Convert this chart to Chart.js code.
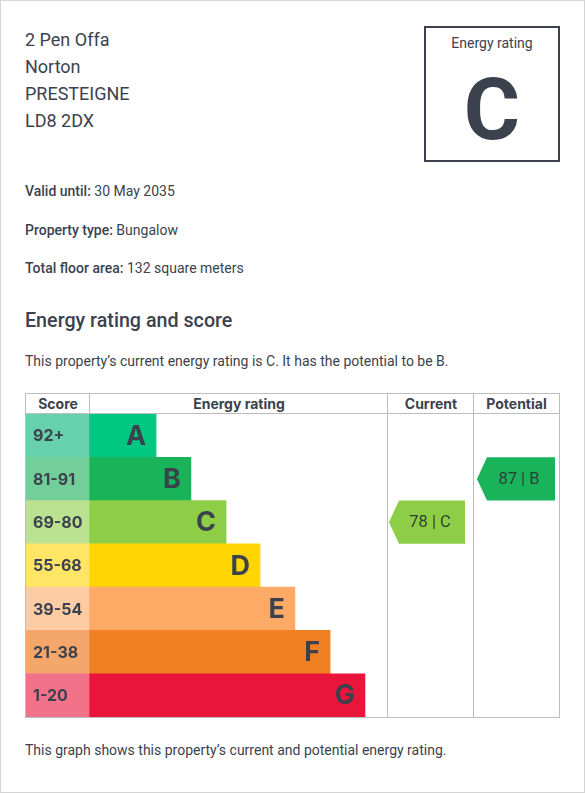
<!DOCTYPE html>
<html lang="en">
<head>
<meta charset="UTF-8">
<title>Energy rating</title>
<script src="https://cdn.jsdelivr.net/npm/chart.js"></script>
<style>
    body {
        margin: 0;
        font-family: Roboto, 'Noto Sans', sans-serif;
        color: #3b424d;
        background: #fff;
    }
    .page {
        position: relative;
        width: 583px;
        height: 791px;
        border: 1px solid #d4d4d4;
        overflow: hidden;
    }
    .address {
        position: absolute;
        left: 24px;
        top: 25px;
        font-size: 18px;
        line-height: 27px;
    }
    .rating-box {
        position: absolute;
        left: 423px;
        top: 25px;
        width: 132px;
        height: 132px;
        border: 2px solid #3b424d;
        text-align: center;
    }
    .rating-box .label {
        font-size: 14px;
        margin-top: 7px;
    }
    .rating-box .letter {
        font-size: 86px;
        font-weight: 700;
        line-height: 86px;
        margin-top: 16px;
    }
    .info {
        position: absolute;
        left: 24px;
        font-size: 14px;
        line-height: 18px;
    }
    .info b { font-weight: 500; }
    h2 {
        position: absolute;
        left: 24px;
        top: 307px;
        margin: 0;
        font-size: 19.7px;
        font-weight: 500;
        line-height: 26px;
    }
    .table {
        position: absolute;
        left: 24px;
        top: 392px;
        width: 533px;
        height: 323px;
        border: 1px solid #bdbdbd;
    }
    .head {
        position: absolute;
        top: 0;
        height: 20px;
        line-height: 19px;
        font-family: Inter, sans-serif;
        font-size: 14px;
        font-weight: 700;
        text-align: center;
        border-bottom: 1px solid #bdbdbd;
        box-sizing: border-box;
    }
    .sep {
        position: absolute;
        top: 0;
        width: 1px;
        background: #bdbdbd;
    }
    #chart-wrap {
        position: absolute;
        left: 25px;
        top: 413px;
        width: 533px;
        height: 303px;
    }
</style>
</head>
<body>
<div class="page">
    <div class="address">2 Pen Offa<br>Norton<br>PRESTEIGNE<br>LD8 2DX</div>
    <div class="rating-box">
        <div class="label">Energy rating</div>
        <div class="letter">C</div>
    </div>
    <div class="info" style="top:181px"><b>Valid until:</b> 30 May 2035</div>
    <div class="info" style="top:220px"><b>Property type:</b> Bungalow</div>
    <div class="info" style="top:258px"><b>Total floor area:</b> 132 square meters</div>
    <h2>Energy rating and score</h2>
    <div class="info" style="top:351px">This property’s current energy rating is C. It has the potential to be B.</div>

    <div class="table">
        <div class="head" style="left:0;width:64px">Score</div>
        <div class="head" style="left:64px;width:298px">Energy rating</div>
        <div class="head" style="left:362px;width:86px">Current</div>
        <div class="head" style="left:448px;width:85px">Potential</div>
        <div class="sep" style="left:63px;height:20px"></div>
        <div class="sep" style="left:361px;height:323px"></div>
        <div class="sep" style="left:447px;height:323px"></div>
    </div>
    <div id="chart-wrap"><canvas id="chart"></canvas></div>

    <div class="info" style="top:740px">This graph shows this property’s current and potential energy rating.</div>
</div>

<script>
    // bands, top (best) to bottom
    const bands = ['A', 'B', 'C', 'D', 'E', 'F', 'G'];
    const scoreRanges = ['92+', '81-91', '69-80', '55-68', '39-54', '21-38', '1-20'];
    const bandMin = [92, 81, 69, 55, 39, 21, 1];
    // bar length as % of the energy rating column
    const bandLengths = [22.5, 34.2, 46, 57.4, 69.1, 80.9, 92.6];
    const bandColors = ['#00c781', '#19b459', '#8dce46', '#ffd500', '#fcaa65', '#ef8023', '#e9153b'];
    const scoreColors = ['#66d1ac', '#72cf9a', '#bbe290', '#ffe566', '#fdcca3', '#f5a66b', '#f27389'];
    const currentScore = 78;
    const potentialScore = 87;

    // column edges in table pixels (x scale runs 0..533)
    const cols = {
        score: [0, 63],
        rating: [63, 361],
        current: [361, 447],
        potential: [447, 533]
    };
    const ratingWidth = cols.rating[1] - cols.rating[0];

    function bandOf(score) {
        return bandMin.findIndex(m => score >= m);
    }

    const labelPlugin = {
        id: 'labels',
        afterDatasetsDraw(chart) {
            const ctx = chart.ctx;
            const scoreBars = chart.getDatasetMeta(0).data;
            const bandBars = chart.getDatasetMeta(1).data;
            ctx.save();
            ctx.fillStyle = '#3b424d';
            ctx.textBaseline = 'middle';
            ctx.font = '700 16px Inter, sans-serif';
            ctx.textAlign = 'left';
            scoreBars.forEach((bar, i) => {
                ctx.fillText(scoreRanges[i], bar.base + 7, bar.y + 1);
            });
            ctx.font = '700 27px Inter, sans-serif';
            ctx.textAlign = 'right';
            bandBars.forEach((bar, i) => {
                ctx.fillText(bands[i], bar.x - 10, bar.y + 1);
            });
            ctx.restore();
        }
    };

    const arrowPlugin = {
        id: 'arrows',
        afterDatasetsDraw(chart) {
            const ctx = chart.ctx;
            const x = chart.scales.x;
            const y = chart.scales.y;
            const rowH = y.getPixelForValue(1) - y.getPixelForValue(0);
            const draw = (score, col, padL, padR) => {
                const i = bandOf(score);
                const cy = y.getPixelForValue(i);
                const top = cy - rowH / 2;
                const bot = cy + rowH / 2;
                const left = x.getPixelForValue(col[0]) + padL;
                const right = x.getPixelForValue(col[1]) - padR;
                const tip = 10;
                ctx.beginPath();
                ctx.moveTo(left, cy);
                ctx.lineTo(left + tip, top);
                ctx.lineTo(right, top);
                ctx.lineTo(right, bot);
                ctx.lineTo(left + tip, bot);
                ctx.closePath();
                ctx.fillStyle = bandColors[i];
                ctx.fill();
                ctx.fillStyle = '#2f3d36';
                ctx.font = '16.5px Roboto, sans-serif';
                ctx.textAlign = 'center';
                ctx.textBaseline = 'middle';
                ctx.fillText(score + ' | ' + bands[i], (left + tip + right) / 2 - 2, cy + 1);
            };
            ctx.save();
            draw(currentScore, cols.current, 2, 8);
            draw(potentialScore, cols.potential, 4, 4);
            ctx.restore();
        }
    };

    new Chart(document.getElementById('chart'), {
        type: 'bar',
        data: {
            labels: bands,
            datasets: [
                {
                    label: 'Score',
                    data: scoreRanges.map(() => cols.score),
                    backgroundColor: scoreColors
                },
                {
                    label: 'Energy rating',
                    data: bandLengths.map(l => [cols.rating[0], cols.rating[0] + l * ratingWidth / 100]),
                    backgroundColor: bandColors
                }
            ]
        },
        options: {
            indexAxis: 'y',
            responsive: true,
            maintainAspectRatio: false,
            animation: false,
            layout: { padding: 0 },
            datasets: {
                bar: {
                    grouped: false,
                    barPercentage: 1,
                    categoryPercentage: 1,
                    borderWidth: 0
                }
            },
            scales: {
                x: { type: 'linear', min: 0, max: 533, display: false },
                y: { display: false }
            },
            plugins: {
                legend: { display: false },
                tooltip: { enabled: false }
            }
        },
        plugins: [labelPlugin, arrowPlugin]
    });
</script>
</body>
</html>
